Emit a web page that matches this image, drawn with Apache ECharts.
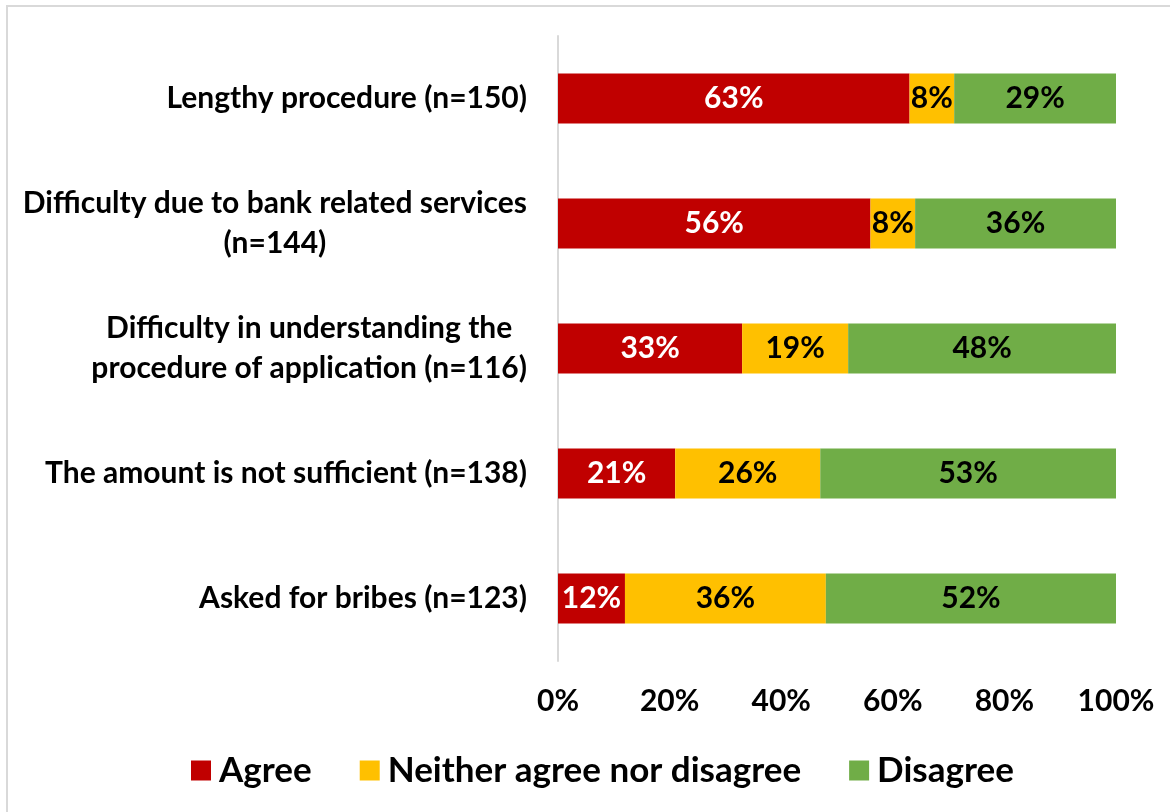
<!DOCTYPE html>
<html>
<head>
<meta charset="utf-8">
<title>Problems faced in availing the benefit</title>
<script src="https://cdn.jsdelivr.net/npm/echarts@6/dist/echarts.min.js"></script>
<style>
  html, body { margin: 0; padding: 0; background: #fff; }
  #chart { width: 1170px; height: 812px; }
</style>
</head>
<body>
<div id="chart"></div>
<script>
// Survey statements, top to bottom
const categories = [
  'Lengthy procedure (n=150)',
  'Difficulty due to bank related services\n(n=144)',
  'Difficulty in understanding the\nprocedure of application (n=116)',
  'The amount is not sufficient (n=138)',
  'Asked for bribes (n=123)'
];

// Share of respondents (%) per response
const agree    = [63, 56, 33, 21, 12];
const neither  = [8, 8, 19, 26, 36];
const disagree = [29, 36, 48, 53, 52];

const seriesNames = ['Agree', 'Neither agree nor disagree', 'Disagree'];
const xTicks = [0, 20, 40, 60, 80, 100];

const FONT = 'Lato, "Open Sans", sans-serif';
const colors = ['#C00000', '#FFC000', '#70AD47'];
const labelColors = ['#FFFFFF', '#000000', '#000000'];

function barSeries(name, values, idx) {
  return {
    name: name,
    type: 'bar',
    stack: 'total',
    barWidth: 50,
    data: values,
    itemStyle: { color: colors[idx] },
    label: {
      show: true,
      position: 'inside',
      formatter: '{c}%',
      color: labelColors[idx],
      fontFamily: FONT,
      fontWeight: 'bold',
      fontSize: 30
    },
    emphasis: { disabled: true }
  };
}

const chart = echarts.init(document.getElementById('chart'), null, { renderer: 'canvas' });

chart.setOption({
  animation: false,
  backgroundColor: '#FFFFFF',
  graphic: [{
    type: 'rect',
    shape: { x: 7, y: 6, width: 1200, height: 900 },
    style: { fill: null, stroke: '#D9D9D9', lineWidth: 2 },
    silent: true
  }],
  grid: { left: 558, right: 54, top: 36, bottom: 151, containLabel: false },
  legend: {
    data: seriesNames,
    left: 186,
    top: 748,
    icon: 'rect',
    itemWidth: 20,
    itemHeight: 20,
    itemGap: 48,
    textStyle: {
      fontFamily: FONT,
      fontWeight: 'bold',
      fontSize: 35,
      color: '#000000',
      padding: [0, 0, 0, 3]
    }
  },
  xAxis: {
    type: 'value',
    min: 0,
    max: 100,
    interval: 20,
    axisLine: { show: false },
    axisTick: { show: false },
    splitLine: { show: false },
    axisLabel: {
      margin: 25,
      formatter: function (v) { return xTicks.indexOf(v) >= 0 ? v + '%' : ''; },
      fontFamily: FONT,
      fontWeight: 'bold',
      fontSize: 30,
      color: '#000000'
    }
  },
  yAxis: {
    type: 'category',
    inverse: true,
    data: categories,
    axisLine: { show: true, lineStyle: { color: '#D9D9D9', width: 2 } },
    axisTick: { show: false },
    axisLabel: {
      margin: 31,
      align: 'right',
      formatter: function (v) {
        return v.split('\n').map(function (line) { return '{c|' + line + '}'; }).join('\n');
      },
      rich: {
        c: {
          align: 'center',
          fontFamily: FONT,
          fontWeight: 'bold',
          fontSize: 30,
          lineHeight: 40,
          color: '#000000'
        }
      }
    }
  },
  series: [
    barSeries(seriesNames[0], agree, 0),
    barSeries(seriesNames[1], neither, 1),
    barSeries(seriesNames[2], disagree, 2)
  ]
});
</script>
</body>
</html>
